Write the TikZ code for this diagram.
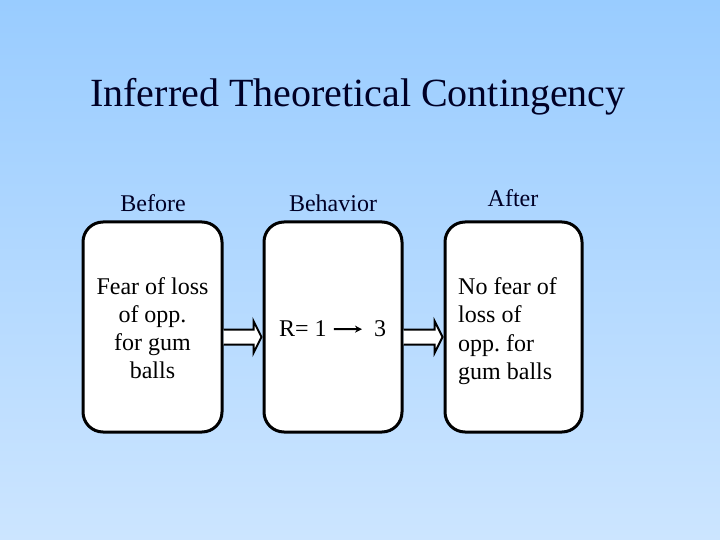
\documentclass[tikz,border=0pt]{standalone}
\usepackage{fontspec}
\setmainfont{Liberation Serif}
\usetikzlibrary{calc,arrows.meta}
\definecolor{bgtop}{HTML}{99CCFF}
\definecolor{bgbot}{HTML}{CCE5FF}
\definecolor{navy}{HTML}{000026}
\frenchspacing
\tikzset{
  box/.style={draw=black, fill=white, line width=3bp, rounded corners=20bp, minimum height=210bp, inner sep=0pt},
  body/.style={font=\fontsize{24bp}{28bp}\selectfont, text=black, anchor=base, inner sep=0pt},
  lbl/.style={font=\fontsize{24bp}{28bp}\selectfont, text=navy, anchor=base, inner sep=0pt},
  blockarrow/.style={draw=black, fill=white, line width=2bp, line join=miter},
}
\begin{document}
\begin{tikzpicture}[x=1bp, y=-1bp]
\shade[top color=bgtop, bottom color=bgbot] (0,0) rectangle (720,540);
\useasboundingbox (0,0) rectangle (720,540);

\node[font=\fontsize{40bp}{44bp}\selectfont, text=navy, anchor=base, inner sep=0pt] (title) at (358,107) {Inferred Theoretical Contingency};

\node[lbl] (lb1) at (153,212) {Before};
\node[lbl] (lb2) at (333,212) {Behavior};
\node[lbl] (lb3) at (513,207) {After};

\node[box, minimum width=139bp] (b1) at (152.5,327) {};
\node[box, minimum width=138bp] (b2) at (333,327) {};
\node[box, minimum width=137bp] (b3) at (513.5,327) {};

% box 1 text
\node[body] (t11) at (152.5,294) {Fear of loss};
\node[body] (t12) at (152.5,322) {of opp.};
\node[body] (t13) at (152.5,350) {for gum};
\node[body] (t14) at (152.5,378) {balls};

% box 2 text
\node[body, anchor=base west] (r1) at (279,336) {R= 1};
\node[body, anchor=base west] (r3) at (374,336) {3};
\draw[line width=2bp, -{Stealth[length=7bp,width=7bp]}] ($(r1.east)+(7,1)$) coordinate (ra) -- ($(r3.west)+(-12,1)$) coordinate (rb);

% box 3 text
\node[body, anchor=base west] (t31) at (458,294) {No fear of};
\node[body, anchor=base west] (t32) at (458,322) {loss of};
\node[body, anchor=base west] (t33) at (458,351) {opp. for};
\node[body, anchor=base west] (t34) at (458,379) {gum balls};

% block arrows
\coordinate (a1) at (b1.east |- 0,337);
\draw[blockarrow] ($(a1)+(0,-7.5)$) -- ($(a1)+(30,-7.5)$) -- ($(a1)+(30,-16)$) -- ($(a1)+(38,0)$) -- ($(a1)+(30,16)$) -- ($(a1)+(30,7.5)$) -- ($(a1)+(0,7.5)$);
\coordinate (a2) at (b2.east |- 0,337);
\draw[blockarrow] ($(a2)+(0,-7.5)$) -- ($(a2)+(31,-7.5)$) -- ($(a2)+(31,-16)$) -- ($(a2)+(39,0)$) -- ($(a2)+(31,16)$) -- ($(a2)+(31,7.5)$) -- ($(a2)+(0,7.5)$);
\end{tikzpicture}
\end{document}
